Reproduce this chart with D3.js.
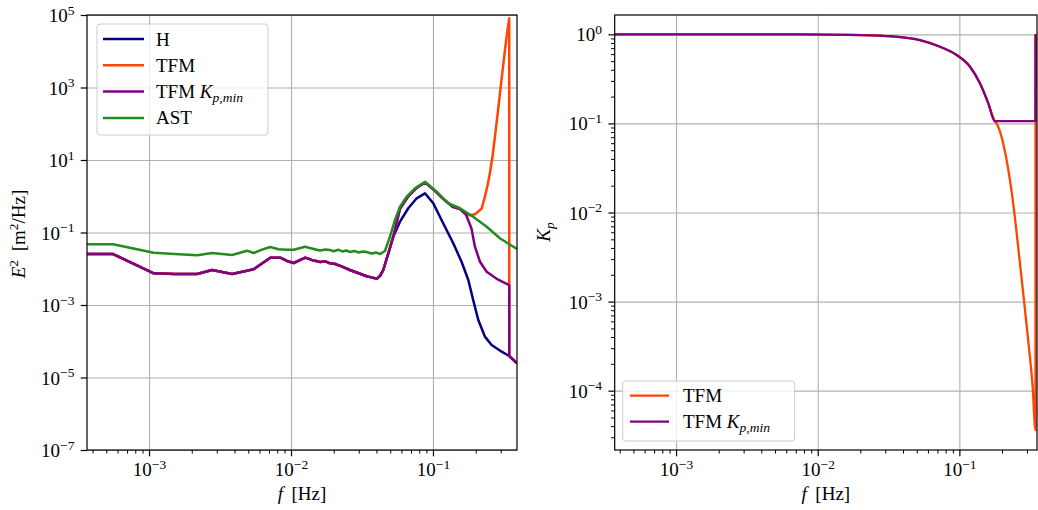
<!DOCTYPE html>
<html><head><meta charset="utf-8">
<script src="https://cdn.jsdelivr.net/npm/d3@7"></script>
<style>
html,body{margin:0;padding:0;background:#fff;}
text{font-family:"Liberation Serif","Times New Roman",serif;fill:#000;}
</style></head>
<body><svg id="c" width="1038" height="510"></svg>
<script>
// ---------- data ----------
const freqH = [3.66e-4,5.58e-4,1.08e-3,1.52e-3,2.18e-3,2.78e-3,3.85e-3,5.46e-3,7.15e-3,8.41e-3,9.37e-3,1.045e-2,1.26e-2,1.40e-2,1.61e-2,1.75e-2,1.88e-2,2.05e-2,2.25e-2,2.6e-2,3.0e-2,3.41e-2,3.75e-2,4.02e-2,4.25e-2,4.47e-2,4.85e-2,5.25e-2,5.86e-2,6.7e-2,7.68e-2,8.79e-2,0.1005,0.118,0.139,0.159,0.1774,0.192,0.2086,0.2323,0.259,0.305,0.3445,0.391];
const specH = [0.0255,0.0255,0.00748,0.00716,0.00716,0.00925,0.00716,0.00966,0.0202,0.0202,0.0164,0.0144,0.0202,0.0175,0.0153,0.0160,0.0141,0.0135,0.0118,0.00925,0.0075,0.00622,0.0057,0.00528,0.0065,0.00925,0.0267,0.0766,0.199,0.466,0.877,1.205,0.64,0.1795,0.0504,0.0156,0.0049,0.00137,3.86e-4,1.34e-4,7.9e-5,5.15e-5,3.92e-5,2.47e-5];

const freqKpMin = [3.66e-4,5.58e-4,1.08e-3,1.52e-3,2.18e-3,2.78e-3,3.85e-3,5.46e-3,7.15e-3,8.41e-3,9.37e-3,1.045e-2,1.26e-2,1.40e-2,1.61e-2,1.75e-2,1.88e-2,2.05e-2,2.25e-2,2.6e-2,3.0e-2,3.41e-2,3.75e-2,4.02e-2,4.25e-2,4.47e-2,4.85e-2,0.0525,0.0586,0.067,0.0768,0.0879,0.1005,0.118,0.139,0.155,0.171,0.1866,0.1975,0.2144,0.239,0.281,0.3445,0.3448,0.391];
const specKpMin = [0.0255,0.0255,0.00748,0.00716,0.00716,0.00925,0.00716,0.00966,0.0202,0.0202,0.0164,0.0144,0.0202,0.0175,0.0153,0.0160,0.0141,0.0135,0.0118,0.00925,0.0075,0.00622,0.0057,0.00528,0.0065,0.00925,0.0267,0.0766,0.45,1.0,1.7,2.4,1.55,0.85,0.50,0.44,0.31,0.131,0.0406,0.0156,0.0083,0.00528,0.00356,3.92e-5,2.47e-5];

const freqTFM = [3.66e-4,5.58e-4,1.08e-3,1.52e-3,2.18e-3,2.78e-3,3.85e-3,5.46e-3,7.15e-3,8.41e-3,9.37e-3,1.045e-2,1.26e-2,1.40e-2,1.61e-2,1.75e-2,1.88e-2,2.05e-2,2.25e-2,2.6e-2,3.0e-2,3.41e-2,3.75e-2,4.02e-2,4.25e-2,4.47e-2,4.85e-2,0.0525,0.0586,0.067,0.0768,0.0879,0.1005,0.118,0.139,0.155,0.171,0.183,0.1975,0.207,0.2204,0.2323,0.2419,0.2518,0.2624,0.2733,0.2845,0.2965,0.3085,0.3215,0.332,0.3445,0.3448,0.391];
const specTFM = [0.0255,0.0255,0.00748,0.00716,0.00716,0.00925,0.00716,0.00966,0.0202,0.0202,0.0164,0.0144,0.0202,0.0175,0.0153,0.0160,0.0141,0.0135,0.0118,0.00925,0.0075,0.00622,0.0057,0.00528,0.0065,0.00925,0.0267,0.0766,0.45,1.0,1.7,2.4,1.55,0.85,0.50,0.44,0.31,0.30,0.32,0.37,0.46,0.972,1.92,4.3,12.1,44,164,692,2680,1.08e4,3.0e4,8.1e4,3.92e-5,2.47e-5];

const freqAST = [3.66e-4,5.58e-4,1.08e-3,1.52e-3,2.18e-3,2.78e-3,3.85e-3,4.90e-3,5.46e-3,6.25e-3,7.12e-3,8.19e-3,9.37e-3,1.045e-2,1.256e-2,1.445e-2,1.6e-2,1.75e-2,1.88e-2,2.0e-2,2.15e-2,2.3e-2,2.45e-2,2.6e-2,2.8e-2,3.0e-2,3.2e-2,3.41e-2,3.7e-2,4.0e-2,4.24e-2,4.59e-2,4.98e-2,5.4e-2,5.86e-2,6.53e-2,7.47e-2,8.79e-2,0.1062,0.128,0.155,0.192,0.239,0.296,0.391];
const specAST = [0.0472,0.0472,0.0277,0.0255,0.0235,0.0272,0.0239,0.0315,0.0272,0.0336,0.0398,0.0344,0.0336,0.0336,0.0406,0.0351,0.0318,0.0340,0.0329,0.0305,0.0335,0.0300,0.0318,0.0290,0.0310,0.0280,0.0300,0.0290,0.0262,0.0280,0.0255,0.0309,0.0766,0.221,0.515,0.973,1.66,2.52,1.34,0.64,0.466,0.273,0.1445,0.0692,0.0351];

const freqKp = [3.7e-4,1e-3,3e-3,7.5e-3,0.0169,0.0307,0.0527,0.073,0.0957,0.1189,0.1397,0.16,0.178,0.183,0.2155,0.2399,0.26,0.2823,0.306,0.329,0.3445,0.3448];
const kpTFM = [1,1,1,0.997,0.987,0.957,0.863,0.726,0.586,0.433,0.282,0.168,0.106,0.1,0.0388,0.01268,0.00413,0.00124,3.7e-4,1.11e-4,3.62e-5,1];
const freqKpMinR = [3.7e-4,1e-3,3e-3,7.5e-3,0.0169,0.0307,0.0527,0.073,0.0957,0.1189,0.1397,0.16,0.178,0.3445,0.3448];
const kpMin = [1,1,1,0.997,0.987,0.957,0.863,0.726,0.586,0.433,0.282,0.168,0.106,0.106,1];

const xMajor = [1e-3,1e-2,1e-1];
const xMajorExp = ["−3","−2","−1"];
const yMajorLeft = [1e-7,1e-5,1e-3,1e-1,1e1,1e3,1e5];
const yMajorLeftExp = ["−7","−5","−3","−1","1","3","5"];
const yMajorRight = [1e-4,1e-3,1e-2,1e-1,1e0];
const yMajorRightExp = ["−4","−3","−2","−1","0"];

const colH = "#000080", colTFM = "#ff4500", colKp = "#800080", colAST = "#228b22";

// ---------- drawing ----------
const svg = d3.select("#c");
const FS = 19, FSS = 13.5;
const TOP = 15, BOT = 450;
const L = {x0:87, x1:517};
const R = {x0:614.7, x1:1037};

const xL = d3.scaleLog().domain([10**-3.437, 10**-0.408]).range([L.x0, L.x1]);
const yL = d3.scaleLog().domain([1e-7, 1e5]).range([BOT, TOP]);
const xR = d3.scaleLog().domain([10**-3.433, 10**-0.452]).range([R.x0, R.x1]);
const yR = d3.scaleLog().domain([10**-4.666, 10**0.217]).range([BOT, TOP]);

function minorTicks(scale){
  const [a,b] = scale.domain(); const out=[];
  for(let e=Math.floor(Math.log10(a)); e<=Math.ceil(Math.log10(b)); e++){
    for(let m=2;m<=9;m++){const v=m*10**e; if(v>=a && v<=b) out.push(v);}
  }
  return out;
}

function supLabel(sel, exps, vals){
  sel.each(function(d){
    const t = d3.select(this); t.text(null);
    const i = vals.indexOf(d);
    t.append("tspan").text("10");
    t.append("tspan").attr("dy","-7.5").attr("font-size",FSS+"px").text(exps[i]);
  });
}

function panel(x, y, xr, yMaj, yExp, yMinor){
  const g = svg.append("g");
  const w = xr.x1 - xr.x0, h = BOT - TOP;
  g.append("g").attr("transform",`translate(0,${BOT})`)
    .call(d3.axisBottom(x).tickValues(xMajor).tickSize(-h).tickFormat(""))
    .call(s=>{s.select(".domain").remove(); s.selectAll("line").attr("stroke","#b0b0b0").attr("stroke-width",1.1);});
  g.append("g").attr("transform",`translate(${xr.x0},0)`)
    .call(d3.axisLeft(y).tickValues(yMaj).tickSize(-w).tickFormat(""))
    .call(s=>{s.select(".domain").remove(); s.selectAll("line").attr("stroke","#b0b0b0").attr("stroke-width",1.1);});
  g.append("g").attr("transform",`translate(0,${BOT})`)
    .call(d3.axisBottom(x).tickValues(minorTicks(x)).tickSize(3.6).tickFormat(""))
    .call(s=>{s.select(".domain").remove(); s.selectAll("line").attr("stroke","#000").attr("stroke-width",1);});
  g.append("g").attr("transform",`translate(0,${BOT})`)
    .call(d3.axisBottom(x).tickValues(xMajor).tickSize(6.3).tickPadding(6))
    .call(s=>{
      s.select(".domain").remove();
      s.selectAll("line").attr("stroke","#000").attr("stroke-width",1.2);
      s.selectAll("text").attr("font-size",FS+"px").attr("font-family","Liberation Serif").attr("y",26).attr("dy",null)
        .call(t=>supLabel(t, xMajorExp, xMajor));
    });
  if(yMinor){
    g.append("g").attr("transform",`translate(${xr.x0},0)`)
      .call(d3.axisLeft(y).tickValues(minorTicks(y)).tickSize(3.6).tickFormat(""))
      .call(s=>{s.select(".domain").remove(); s.selectAll("line").attr("stroke","#000").attr("stroke-width",1);});
  }
  g.append("g").attr("transform",`translate(${xr.x0},0)`)
    .call(d3.axisLeft(y).tickValues(yMaj).tickSize(6.3).tickPadding(6.3))
    .call(s=>{
      s.select(".domain").remove();
      s.selectAll("line").attr("stroke","#000").attr("stroke-width",1.2);
      s.selectAll("text").attr("font-size",FS+"px").attr("font-family","Liberation Serif").attr("dy","6.5")
        .call(t=>supLabel(t, yExp, yMaj));
    });
  return g;
}

const gL = panel(xL, yL, L, yMajorLeft, yMajorLeftExp, false);
const gR = panel(xR, yR, R, yMajorRight, yMajorRightExp, true);

const defs = svg.append("defs");
defs.append("clipPath").attr("id","clipL").append("rect").attr("x",L.x0).attr("y",TOP).attr("width",L.x1-L.x0).attr("height",BOT-TOP);
defs.append("clipPath").attr("id","clipR").append("rect").attr("x",R.x0).attr("y",TOP).attr("width",R.x1-R.x0).attr("height",BOT-TOP);

function drawLine(g, clip, fx, fy, xs, ys, color, lw, curve){
  const pts = xs.map((f,i)=>[f, ys[i]]);
  const line = d3.line().x(d=>fx(d[0])).y(d=>fy(d[1])).curve(curve||d3.curveLinear);
  g.append("path").attr("clip-path",`url(#${clip})`).attr("d", line(pts))
    .attr("fill","none").attr("stroke",color).attr("stroke-width",lw)
    .attr("stroke-linejoin","round").attr("stroke-linecap","butt");
}

const LW = 2.5;
drawLine(gL,"clipL",xL,yL,freqH,specH,colH,LW);
drawLine(gL,"clipL",xL,yL,freqTFM,specTFM,colTFM,LW);
drawLine(gL,"clipL",xL,yL,freqKpMin,specKpMin,colKp,LW);
drawLine(gL,"clipL",xL,yL,freqAST,specAST,colAST,LW);

drawLine(gR,"clipR",xR,yR,freqKp,kpTFM,colTFM,2.3,d3.curveMonotoneX);
drawLine(gR,"clipR",xR,yR,freqKpMinR,kpMin,colKp,2.3,d3.curveMonotoneX);

[L,R].forEach(p=>{
  svg.append("rect").attr("x",p.x0).attr("y",TOP).attr("width",p.x1-p.x0).attr("height",BOT-TOP)
    .attr("fill","none").attr("stroke","#000").attr("stroke-width",1.2);
});

function xlabel(cx){
  const t = svg.append("text").attr("x",cx).attr("y",500).attr("text-anchor","middle").attr("font-size",FS+"px");
  t.append("tspan").attr("font-style","italic").text("f");
  t.append("tspan").text("\u2009 [Hz]");
}
xlabel((L.x0+L.x1)/2);
xlabel((R.x0+R.x1)/2);

{
  const t = svg.append("text").attr("transform","translate(25,234) rotate(-90)").attr("text-anchor","middle").attr("font-size",FS+"px");
  t.append("tspan").attr("font-style","italic").text("E");
  t.append("tspan").attr("dy","-7").attr("font-size",FSS+"px").text("2");
  t.append("tspan").attr("dy","7").text("\u2009 [m");
  t.append("tspan").attr("dy","-7").attr("font-size",FSS+"px").text("2");
  t.append("tspan").attr("dy","7").text("/Hz]");
}
{
  const t = svg.append("text").attr("transform","translate(550,232) rotate(-90)").attr("text-anchor","middle").attr("font-size",FS+"px");
  t.append("tspan").attr("font-style","italic").text("K");
  t.append("tspan").attr("dy","4").attr("font-size",FSS+"px").attr("font-style","italic").text("p");
}

function legend(x, y, w, h, items, rowY0, dyRow, lx0, lx1, tx, lw){
  svg.append("rect").attr("x",x).attr("y",y).attr("width",w).attr("height",h).attr("rx",3)
    .attr("fill","#fff").attr("fill-opacity",0.8).attr("stroke","#cccccc").attr("stroke-width",1);
  items.forEach((it,i)=>{
    const yy = rowY0 + i*dyRow;
    svg.append("line").attr("x1",lx0).attr("x2",lx1).attr("y1",yy).attr("y2",yy)
      .attr("stroke",it.color).attr("stroke-width",lw);
    const t = svg.append("text").attr("x",tx).attr("y",yy+6.5).attr("font-size",FS+"px");
    t.append("tspan").text(it.label);
    if(it.kp){
      t.append("tspan").attr("font-style","italic").text(" K");
      t.append("tspan").attr("dy","4").attr("font-size",FSS+"px").attr("font-style","italic").text("p,min");
    }
  });
}
const legendLeft = [{label:"H",color:colH},{label:"TFM",color:colTFM},{label:"TFM",color:colKp,kp:true},{label:"AST",color:colAST}];
const legendRight = [{label:"TFM",color:colTFM},{label:"TFM",color:colKp,kp:true}];
legend(97,24,171,111,legendLeft,39,26.3,103,144,156,LW);
legend(622.7,381,172,60,legendRight,395.7,26,630,669,683,2.3);
</script></body></html>
